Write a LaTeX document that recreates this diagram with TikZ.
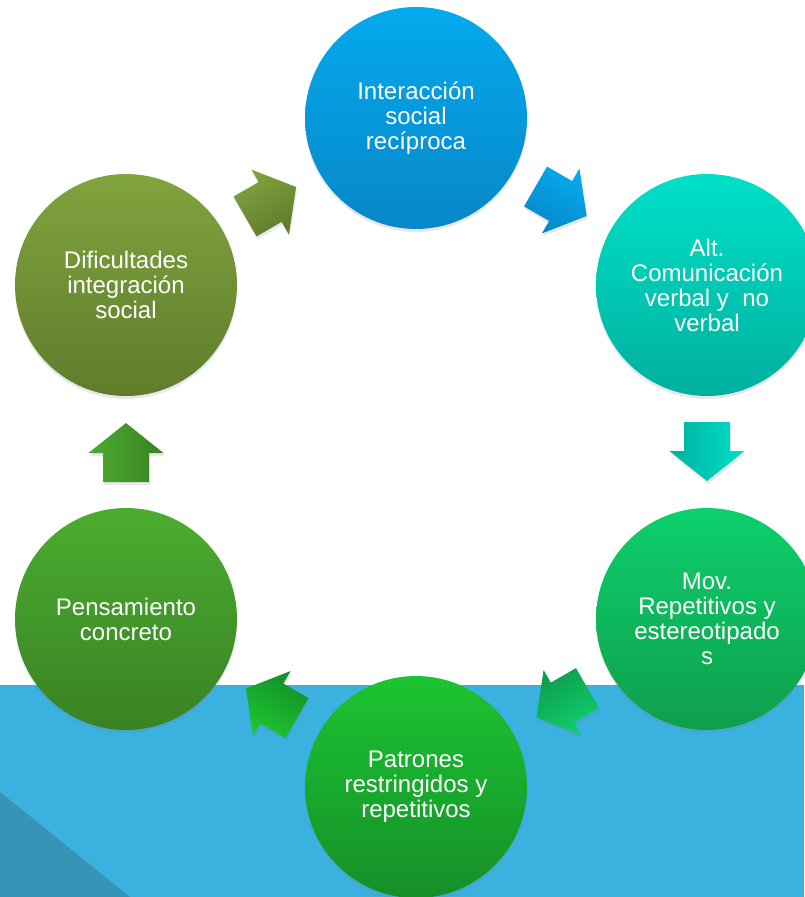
\documentclass[tikz,border=0pt]{standalone}
\usepackage{fontspec}
\setmainfont{Liberation Sans}
\usepackage{xcolor}
\usepackage{tikz}
\usetikzlibrary{calc}
\usetikzlibrary{shadows}

\definecolor{bandblue}{HTML}{3BB1DF}
\definecolor{banddark}{HTML}{3894B6}
\definecolor{cAtop}{HTML}{04AAEE}
\definecolor{cAbot}{HTML}{0787C8}
\definecolor{cBtop}{HTML}{00E0C8}
\definecolor{cBbot}{HTML}{00B09E}
\definecolor{cCtop}{HTML}{0DD06C}
\definecolor{cCbot}{HTML}{0F9E4C}
\definecolor{cDtop}{HTML}{1CC432}
\definecolor{cDbot}{HTML}{158F28}
\definecolor{cEtop}{HTML}{4CAC30}
\definecolor{cEbot}{HTML}{398224}
\definecolor{cFtop}{HTML}{80A43E}
\definecolor{cFbot}{HTML}{5F7C2C}

\begin{document}
\begin{tikzpicture}[x=1pt,y=1pt,
  bubble/.style={circle,minimum size=222pt,inner sep=0pt,text=white,align=center,
    font=\fontsize{24}{25}\selectfont,
    drop shadow={shadow xshift=0pt,shadow yshift=-3pt,opacity=.18}},
  blockarr/.style={drop shadow={shadow xshift=1pt,shadow yshift=-3pt,opacity=.18}}]
\useasboundingbox (0,0) rectangle (804,-897);
% background
\fill[white] (0,0) rectangle (804,-897);
\fill[bandblue] (0,-685) rectangle (804,-897);
\fill[banddark] (0,-792) -- (130,-897) -- (0,-897) -- cycle;

% circles
\node[bubble,top color=cAtop,bottom color=cAbot] (c0) at (416,-118) {Interacción\\social\\recíproca};
\node[bubble,top color=cBtop,bottom color=cBbot] (c1) at (707,-285) {Alt.\\Comunicación\\verbal y\ \ no\\verbal};
\node[bubble,top color=cCtop,bottom color=cCbot] (c2) at (707,-619) {Mov.\\Repetitivos y\\estereotipado\\s};
\node[bubble,top color=cDtop,bottom color=cDbot] (c3) at (416,-787) {Patrones\\restringidos y\\repetitivos};
\node[bubble,top color=cEtop,bottom color=cEbot] (c4) at (126,-619) {Pensamiento\\concreto};
\node[bubble,top color=cFtop,bottom color=cFbot] (c5) at (126,-285) {Dificultades\\integración\\social};

% arrows between the circles
\foreach \from/\to/\ang/\lt/\dk in {c0/c1/-30/cAtop/cAbot, c1/c2/-90/cBtop/cBbot,
    c2/c3/-150/cCtop/cCbot, c3/c4/150/cDtop/cDbot, c4/c5/90/cEtop/cEbot, c5/c0/30/cFtop/cFbot} {
  \begin{scope}[shift={($(\from)!0.5!(\to)$)},rotate=\ang]
    \shade[blockarr,top color=\lt,bottom color=\dk,shading angle=\ang] (-30,-23) -- (-1,-23) -- (-1,-37.5) -- (29,0)
      -- (-1,37.5) -- (-1,23) -- (-30,23) -- cycle;
  \end{scope}
}
\end{tikzpicture}
\end{document}
